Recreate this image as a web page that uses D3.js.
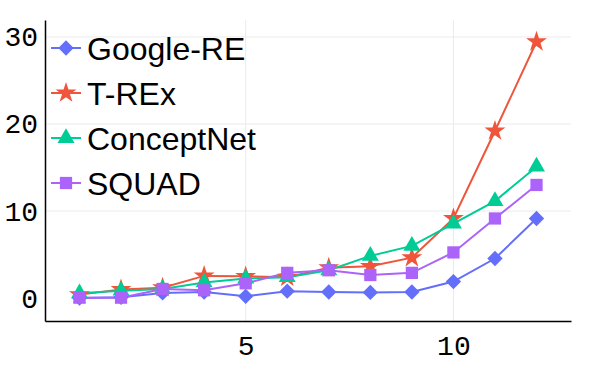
<!DOCTYPE html>
<html>
<head>
<meta charset="utf-8">
<script src="https://cdn.jsdelivr.net/npm/d3@7"></script>
<style>
  body { margin: 0; background: #fff; }
</style>
</head>
<body>
<div id="chart"></div>
<script>
// Data
const steps = [1, 2, 3, 4, 5, 6, 7, 8, 9, 10, 11, 12];
const googleRE = [0.0, 0.1, 0.6, 0.7, 0.2, 0.8, 0.7, 0.65, 0.7, 1.9, 4.55, 9.15];
const trex = [0.4, 1.0, 1.2, 2.55, 2.5, 2.4, 3.5, 3.65, 4.65, 9.15, 19.2, 29.45];
const conceptNet = [0.55, 0.85, 1.05, 1.8, 2.25, 2.4, 3.2, 4.85, 6.0, 8.55, 11.15, 15.1];
const squad = [0.05, 0.05, 1.05, 0.9, 1.7, 2.9, 3.2, 2.65, 2.9, 5.25, 9.15, 13.0];
const xTicks = [5, 10];
const yTicks = [0, 10, 20, 30];

const seriesList = [
    { name: 'Google-RE', values: googleRE, color: '#636efa', symbol: d3.symbolDiamond2, size: 150 },
    { name: 'T-REx', values: trex, color: '#ef553b', symbol: d3.symbolStar, size: 135 },
    { name: 'ConceptNet', values: conceptNet, color: '#00cc96', symbol: d3.symbolTriangle, size: 125 },
    { name: 'SQUAD', values: squad, color: '#ab63fa', symbol: d3.symbolSquare, size: 150 }
];

const W = 600, H = 370;
const margin = { left: 45, right: 571, top: 20, bottom: 321 };

const x = d3.scaleLinear().domain([0.17, 12.83]).range([margin.left, margin.right]);
const y = d3.scaleLinear().domain([-2.63, 31.95]).range([margin.bottom, margin.top]);

const svg = d3.select('#chart').append('svg')
    .attr('width', W)
    .attr('height', H);

// Grid
svg.append('g')
    .selectAll('line')
    .data(yTicks.filter(d => d !== 0))
    .join('line')
    .attr('x1', margin.left).attr('x2', margin.right)
    .attr('y1', d => y(d)).attr('y2', d => y(d))
    .attr('stroke', '#ebebeb').attr('stroke-width', 1);

svg.append('g')
    .selectAll('line')
    .data(xTicks)
    .join('line')
    .attr('x1', d => x(d)).attr('x2', d => x(d))
    .attr('y1', margin.top).attr('y2', margin.bottom)
    .attr('stroke', '#ebebeb').attr('stroke-width', 1);

// Axes
const xAxis = svg.append('g')
    .attr('transform', `translate(0,${margin.bottom})`)
    .call(d3.axisBottom(x).tickValues(xTicks).tickSize(0).tickPadding(14));
const yAxis = svg.append('g')
    .attr('transform', `translate(${margin.left},0)`)
    .call(d3.axisLeft(y).tickValues(yTicks).tickSize(0).tickPadding(7));

[xAxis, yAxis].forEach(a => {
    a.select('.domain').attr('stroke', '#000').attr('stroke-width', 1.5);
    a.selectAll('text')
        .attr('fill', '#000')
        .style('font-family', '"Liberation Mono", monospace')
        .style('font-size', '28px');
});
xAxis.selectAll('text').attr('dy', '0.71em');

// Lines and markers
const line = d3.line()
    .x((d, i) => x(steps[i]))
    .y(d => y(d));

const plot = svg.append('g');
seriesList.forEach(s => {
    plot.append('path')
        .datum(s.values)
        .attr('fill', 'none')
        .attr('stroke', s.color)
        .attr('stroke-width', 2)
        .attr('d', line);
});
seriesList.forEach(s => {
    plot.append('g')
        .selectAll('path')
        .data(s.values)
        .join('path')
        .attr('transform', (d, i) => `translate(${x(steps[i])},${y(d)})`)
        .attr('d', d3.symbol().type(s.symbol).size(s.size))
        .attr('fill', s.color);
});

// Legend
const legend = svg.append('g')
    .selectAll('g')
    .data(seriesList)
    .join('g')
    .attr('transform', (d, i) => `translate(51,${48 + i * 45})`);

legend.append('line')
    .attr('x1', 0).attr('x2', 30)
    .attr('stroke', d => d.color)
    .attr('stroke-width', 2);
legend.append('path')
    .attr('transform', 'translate(15,0)')
    .attr('d', d => d3.symbol().type(d.symbol).size(d.size)())
    .attr('fill', d => d.color);
legend.append('text')
    .attr('x', 36)
    .attr('dy', '0.36em')
    .style('font-family', '"Liberation Sans", Arial, sans-serif')
    .style('font-size', '32px')
    .attr('fill', '#000')
    .text(d => d.name);
</script>
</body>
</html>
